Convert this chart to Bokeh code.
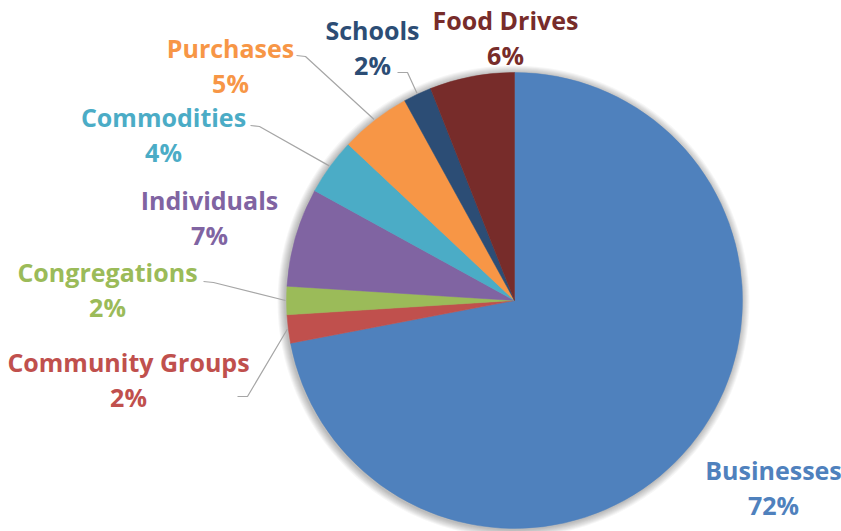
import math
from bokeh.plotting import figure
from bokeh.models import Range1d, ColumnDataSource
from bokeh.core.properties import value
from bokeh.embed import file_html
from bokeh.resources import INLINE

# ---- data ----
categories = ["Businesses", "Community Groups", "Congregations", "Individuals",
              "Commodities", "Purchases", "Schools", "Food Drives"]
shares = [72, 2, 2, 7, 4, 5, 2, 6]
colors = ["#4F81BD", "#C0504D", "#9BBB59", "#8064A2",
          "#4BACC6", "#F79646", "#2C4D75", "#772C2A"]

# ---- layout (screen pixel positions of labels) ----
W, H = 841, 531
def sy(y):
    return H - y

CX, CY, R = 514, sy(300), 228
label_pos = {
    "Businesses": (773, 469),
    "Community Groups": (128, 361),
    "Congregations": (107, 271),
    "Individuals": (209, 199),
    "Commodities": (163, 116),
    "Purchases": (230, 47),
    "Schools": (372, 29),
    "Food Drives": (505, 19),
}
leader_start = {
    "Community Groups": ((237, 396), (247, 396)),
    "Congregations": ((203, 281), (213, 282)),
    "Commodities": ((250, 125), (259, 126)),
    "Purchases": ((296, 55), (305, 56)),
    "Schools": ((397, 72), (407, 72)),
}
PCT_DY = 35

p = figure(width=W, height=H, output_backend="svg", toolbar_location=None,
           x_range=Range1d(0, W), y_range=Range1d(0, H),
           min_border=0)
p.axis.visible = False
p.grid.visible = False
p.outline_line_color = None
p.background_fill_color = "white"
p.border_fill_color = "white"

total = float(sum(shares))
starts, ends, mids = [], [], []
cum = 0.0
for v in shares:
    a0 = math.pi / 2 - 2 * math.pi * cum / total
    cum += v
    a1 = math.pi / 2 - 2 * math.pi * cum / total
    starts.append(a0)
    ends.append(a1)
    mids.append((a0 + a1) / 2)

# soft shadow
for dr in range(8, 0, -1):
    p.circle(x=[CX - 1], y=[CY - 1], radius=R + dr, fill_color="black",
             fill_alpha=0.035, line_color=None)

# leader lines
for name, (a, b) in leader_start.items():
    i = categories.index(name)
    ex = CX + (R + 1) * math.cos(mids[i])
    ey = CY + (R + 1) * math.sin(mids[i])
    p.line(x=[a[0], b[0], ex], y=[sy(a[1]), sy(b[1]), ey],
           line_color="#A6A6A6", line_width=1.2)

src = ColumnDataSource(dict(start=starts, end=ends, color=colors))
p.wedge(x=CX, y=CY, radius=R, start_angle="start", end_angle="end",
        direction="clock", fill_color="color", line_color="color",
        line_width=0.5, source=src)

lx = [label_pos[c][0] for c in categories]
ly = [sy(label_pos[c][1]) for c in categories]
ly2 = [sy(label_pos[c][1] + PCT_DY) for c in categories]
pct = [f"{v}%" for v in shares]
lsrc = ColumnDataSource(dict(x=lx, y=ly, y2=ly2, name=categories, pct=pct, color=colors))
for ycol, tcol in (("y", "name"), ("y2", "pct")):
    p.text(x="x", y=ycol, text=tcol, source=lsrc, text_color="color",
           text_font=value("Open Sans"), text_font_style="bold",
           text_font_size="25px", text_align="center", text_baseline="middle")

open("out.html", "w").write(file_html(p, INLINE))
